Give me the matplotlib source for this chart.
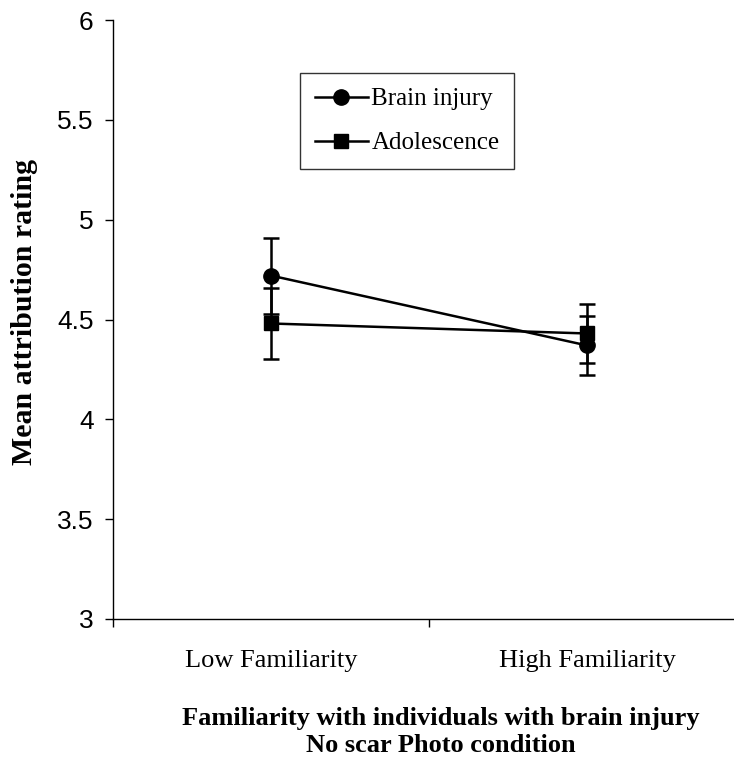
import matplotlib
matplotlib.use("Agg")
import matplotlib.pyplot as plt
from matplotlib.lines import Line2D

categories = ["Low Familiarity", "High Familiarity"]
brain_injury = [4.72, 4.37]
brain_injury_err = [0.19, 0.15]
adolescence = [4.48, 4.43]
adolescence_err = [0.18, 0.15]
yticks = [3, 3.5, 4, 4.5, 5, 5.5, 6]
ytick_labels = ["3", "3.5", "4", "4.5", "5", "5.5", "6"]

serif = "Liberation Serif"
sans = "Liberation Sans"

fig = plt.figure(figsize=(7.34, 7.62), dpi=100)
ax = fig.add_axes([113/734, (762-619)/762, (734-113)/734, 599/762])

xpos = [0.5, 1.5]
ax.errorbar(xpos, brain_injury, yerr=brain_injury_err, color="black", lw=1.8,
            marker="o", ms=11, capsize=6, capthick=1.8, elinewidth=1.8)
ax.errorbar(xpos, adolescence, yerr=adolescence_err, color="black", lw=1.8,
            marker="s", ms=10, capsize=6, capthick=1.8, elinewidth=1.8)

ax.set_ylim(3, 6)
ax.set_xlim(0, (734-113)/316)
ax.set_yticks(yticks)
ax.set_yticklabels(ytick_labels, fontfamily=sans, fontsize=19)
ax.set_xticks([0, 1])
ax.set_xticklabels(["", ""])
ax.set_xticks(xpos, minor=True)
ax.set_xticklabels(categories, minor=True, fontfamily=serif, fontsize=19)
ax.tick_params(axis="x", which="minor", length=0, pad=22)
ax.tick_params(axis="both", which="major", direction="out", length=6, width=1, color="black")
ax.tick_params(axis="y", pad=8)
for s in ["top", "right"]:
    ax.spines[s].set_visible(False)
for s in ["left", "bottom"]:
    ax.spines[s].set_linewidth(1.0)

ax.set_ylabel("Mean attribution rating", fontfamily=serif, fontsize=21.5, fontweight="bold")
ax.yaxis.set_label_coords(-0.121, 0.5125)
fig.text(441/734, 1 - 732/762, "Familiarity with individuals with brain injury\nNo scar Photo condition",
         ha="center", va="center", fontfamily=serif, fontsize=19, fontweight="bold", linespacing=1.25)

handles = [
    Line2D([], [], color="black", lw=1.8, marker="o", ms=11),
    Line2D([], [], color="black", lw=1.8, marker="s", ms=10),
]
leg = ax.legend(handles, ["Brain injury", "Adolescence"], loc="upper left",
                bbox_to_anchor=((300-113)/621, (619-73)/599),
                prop={"family": serif, "size": 18}, frameon=True, fancybox=False,
                edgecolor="black", handlelength=2.1, borderpad=0.6, labelspacing=0.85,
                handletextpad=0.15, borderaxespad=0)
leg.get_frame().set_linewidth(1.0)

fig.savefig("out.png", dpi=100)
